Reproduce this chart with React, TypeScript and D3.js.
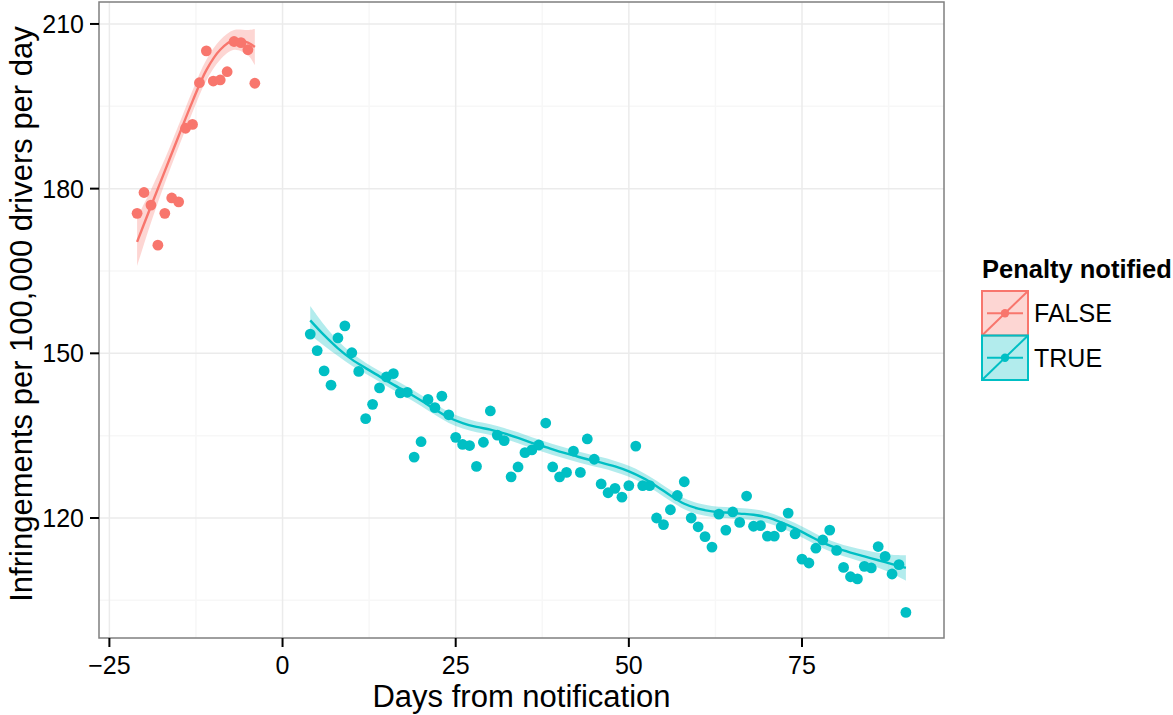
import React from "react";
import * as d3 from "d3";

// observed daily rates, before notification (FALSE) and after (TRUE)
const falseDays = [-21, -20, -19, -18, -17, -16, -15, -14, -13, -12, -11, -10, -9, -8, -7, -6, -5, -4];
const falseRates = [175.5, 179.3, 177.0, 169.7, 175.5, 178.3, 177.6, 191.0, 191.7, 199.3, 205.1, 199.6, 199.8, 201.3, 206.8, 206.6, 205.3, 199.2];

const trueDays = [
  4, 5, 6, 7, 8, 9, 10, 11, 12, 13, 14, 15, 16, 17, 18, 19, 20, 21, 22, 23, 24, 25,
  26, 27, 28, 29, 30, 31, 32, 33, 34, 35, 36, 37, 38, 39, 40, 41, 42, 43, 44, 45, 46,
  47, 48, 49, 50, 51, 52, 53, 54, 55, 56, 57, 58, 59, 60, 61, 62, 63, 64, 65, 66, 67,
  68, 69, 70, 71, 72, 73, 74, 75, 76, 77, 78, 79, 80, 81, 82, 83, 84, 85, 86, 87, 88, 89, 90,
];
const trueRates = [
  153.5, 150.5, 146.8, 144.2, 152.8, 155.0, 150.1, 146.7, 138.1, 140.7, 143.7, 145.7, 146.3, 142.8, 142.9, 131.1, 133.9, 141.6, 140.1, 142.2, 138.8, 134.7,
  133.4, 133.2, 129.4, 133.8, 139.5, 135.1, 134.1, 127.5, 129.3, 131.9, 132.4, 133.3, 137.3, 129.3, 127.5, 128.3, 132.2, 128.3, 134.4, 130.7, 126.2,
  124.6, 125.4, 123.8, 125.9, 133.1, 125.9, 125.9, 120.0, 118.8, 121.5, 124.1, 126.6, 120.0, 118.4, 116.6, 114.7, 120.7, 117.8, 121.1, 119.2, 124.0,
  118.5, 118.6, 116.7, 116.7, 118.4, 120.9, 117.1, 112.5, 111.8, 114.5, 116.0, 117.8, 114.1, 111.0, 109.3, 108.9, 111.2, 110.9, 114.8, 113.0, 109.8, 111.5, 102.8,
];

// smoother (loess) fit and half-width of its confidence band
const falseFitDays = [-21, -19, -17, -15, -13, -11, -9, -7, -5, -4];
const falseFit = [170.3, 176.8, 183.2, 189.6, 195.9, 201.6, 205.3, 207.1, 206.6, 205.8];
const falseBand = [4.4, 3.0, 2.2, 2.0, 2.0, 1.9, 1.8, 1.8, 2.3, 3.3];

const trueFitDays = [
  4, 6, 8, 10, 12, 14, 16, 18, 20, 22, 24, 26, 28, 30, 32, 34, 36, 38, 40, 42, 44, 46,
  48, 50, 52, 54, 56, 58, 60, 62, 64, 66, 68, 70, 72, 74, 76, 78, 80, 82, 84, 86, 88, 90,
];
const trueFit = [
  156.0, 153.3, 150.9, 148.9, 147.3, 145.8, 144.3, 142.9, 141.4, 139.8, 138.3, 137.3, 136.6, 136.1, 135.4, 134.6, 133.7, 132.9, 132.1, 131.4, 130.7, 130.1,
  129.4, 128.5, 127.3, 125.8, 124.1, 122.6, 121.7, 121.2, 121.0, 120.8, 120.6, 120.1, 119.2, 118.1, 116.8, 115.5, 114.5, 113.7, 113.0, 112.3, 111.6, 110.9,
];
const trueBand = [
  2.6, 1.9, 1.4, 1.15, 1.0, 1.0, 1.0, 1.0, 1.0, 1.0, 1.0, 1.0, 1.0, 1.0, 1.0, 1.0, 1.0, 1.0, 1.0, 1.0, 1.0, 1.0,
  1.0, 1.0, 1.0, 1.0, 1.0, 1.0, 1.0, 1.0, 1.0, 1.0, 1.0, 1.0, 1.0, 1.0, 1.0, 1.0, 1.0, 1.05, 1.15, 1.35, 1.7, 2.3,
];

const xTicks = [-25, 0, 25, 50, 75];
const xMinor = [-12.5, 12.5, 37.5, 62.5, 87.5];
const yTicks = [120, 150, 180, 210];
const yMinor = [105, 135, 165, 195];

const groups = ["FALSE", "TRUE"];
const colors = ["#F8766D", "#00BFC4"];

const W = 1173;
const H = 715;
const panel = { left: 99, right: 944, top: 2, bottom: 638 };
const font = "'Liberation Sans', Arial, Helvetica, sans-serif";

export default function App() {
  const x = d3.scaleLinear().domain([-26.5, 95.5]).range([panel.left, panel.right]);
  const y = d3.scaleLinear().domain([98.14, 214]).range([panel.bottom, panel.top]);
  const color = d3.scaleOrdinal<string, string>().domain(groups).range(colors);

  const line = d3
    .line<[number, number]>()
    .x((d) => x(d[0]))
    .y((d) => y(d[1]))
    .curve(d3.curveCatmullRom);
  const area = d3
    .area<[number, number, number]>()
    .x((d) => x(d[0]))
    .y0((d) => y(d[1] - d[2]))
    .y1((d) => y(d[1] + d[2]))
    .curve(d3.curveCatmullRom);

  const series = [
    {
      key: "FALSE",
      pts: falseDays.map((d, i) => [d, falseRates[i]] as [number, number]),
      fit: falseFitDays.map((d, i) => [d, falseFit[i]] as [number, number]),
      band: falseFitDays.map((d, i) => [d, falseFit[i], falseBand[i]] as [number, number, number]),
    },
    {
      key: "TRUE",
      pts: trueDays.map((d, i) => [d, trueRates[i]] as [number, number]),
      fit: trueFitDays.map((d, i) => [d, trueFit[i]] as [number, number]),
      band: trueFitDays.map((d, i) => [d, trueFit[i], trueBand[i]] as [number, number, number]),
    },
  ];

  const fmt = (v: number) => (v < 0 ? "\u2212" + Math.abs(v) : String(v));
  const legendX = 982;
  const legendY = 291;
  const keyW = 46;
  const keyH = 44.5;

  return (
    <svg
      width={W}
      height={H}
      style={{ position: "absolute", left: 0, top: 0, background: "#fff" }}
      fontFamily={font}
    >
      <rect x={0} y={0} width={W} height={H} fill="#fff" />
      <clipPath id="panel-clip">
        <rect x={panel.left} y={panel.top} width={panel.right - panel.left} height={panel.bottom - panel.top} />
      </clipPath>

      {/* grid */}
      <g>
        {xMinor.map((t) => (
          <line key={"xm" + t} x1={x(t)} x2={x(t)} y1={panel.top} y2={panel.bottom} stroke="#F7F7F7" strokeWidth={1.5} />
        ))}
        {yMinor.map((t) => (
          <line key={"ym" + t} x1={panel.left} x2={panel.right} y1={y(t)} y2={y(t)} stroke="#F7F7F7" strokeWidth={1.5} />
        ))}
        {xTicks.map((t) => (
          <line key={"xg" + t} x1={x(t)} x2={x(t)} y1={panel.top} y2={panel.bottom} stroke="#EBEBEB" strokeWidth={1.5} />
        ))}
        {yTicks.map((t) => (
          <line key={"yg" + t} x1={panel.left} x2={panel.right} y1={y(t)} y2={y(t)} stroke="#EBEBEB" strokeWidth={1.5} />
        ))}
      </g>

      {/* smoothers and points */}
      <g clipPath="url(#panel-clip)">
        {series.map((s) => (
          <path key={"band" + s.key} d={area(s.band) || ""} fill={color(s.key)} fillOpacity={0.3} />
        ))}
        {series.map((s) => (
          <path key={"fit" + s.key} d={line(s.fit) || ""} fill="none" stroke={color(s.key)} strokeWidth={2.4} />
        ))}
        {series.map((s) =>
          s.pts.map((p, i) => (
            <circle key={s.key + i} cx={x(p[0])} cy={y(p[1])} r={5.4} fill={color(s.key)} />
          ))
        )}
      </g>

      {/* panel border */}
      <rect
        x={panel.left}
        y={panel.top}
        width={panel.right - panel.left}
        height={panel.bottom - panel.top}
        fill="none"
        stroke="#7F7F7F"
        strokeWidth={1.5}
      />

      {/* y axis */}
      <g>
        {yTicks.map((t) => (
          <g key={"yt" + t}>
            <line x1={panel.left - 9} x2={panel.left} y1={y(t)} y2={y(t)} stroke="#000" strokeWidth={2} />
            <text x={panel.left - 15} y={y(t)} dy="0.36em" textAnchor="end" fontSize={25} fill="#000">
              {fmt(t)}
            </text>
          </g>
        ))}
        <text
          transform={`translate(${21},${(panel.top + panel.bottom) / 2 - 6}) rotate(-90)`}
          textAnchor="middle"
          dy="0.36em"
          fontSize={31}
          fill="#000"
        >
          Infringements per 100,000 drivers per day
        </text>
      </g>

      {/* x axis */}
      <g>
        {xTicks.map((t) => (
          <g key={"xt" + t}>
            <line x1={x(t)} x2={x(t)} y1={panel.bottom} y2={panel.bottom + 9} stroke="#000" strokeWidth={2} />
            <text x={x(t)} y={panel.bottom + 36} textAnchor="middle" fontSize={25} fill="#000">
              {fmt(t)}
            </text>
          </g>
        ))}
        <text x={(panel.left + panel.right) / 2} y={707} textAnchor="middle" fontSize={31} fill="#000">
          Days from notification
        </text>
      </g>

      {/* legend */}
      <g>
        <text x={legendX} y={278} fontSize={25.5} fontWeight="bold" fill="#000">
          Penalty notified
        </text>
        {groups.map((g, i) => {
          const ky = legendY + i * keyH;
          const c = color(g);
          return (
            <g key={"lg" + g}>
              <rect x={legendX} y={ky} width={keyW} height={keyH} fill={c} fillOpacity={0.3} stroke={c} strokeWidth={2} />
              <line x1={legendX} y1={ky + keyH} x2={legendX + keyW} y2={ky} stroke={c} strokeWidth={2} />
              <line x1={legendX + 5} x2={legendX + keyW - 5} y1={ky + keyH / 2} y2={ky + keyH / 2} stroke={c} strokeWidth={2.2} />
              <circle cx={legendX + keyW / 2} cy={ky + keyH / 2} r={4.2} fill={c} />
              <text x={legendX + keyW + 6} y={ky + keyH / 2} dy="0.36em" fontSize={25} fill="#000">
                {g}
              </text>
            </g>
          );
        })}
      </g>
    </svg>
  );
}
